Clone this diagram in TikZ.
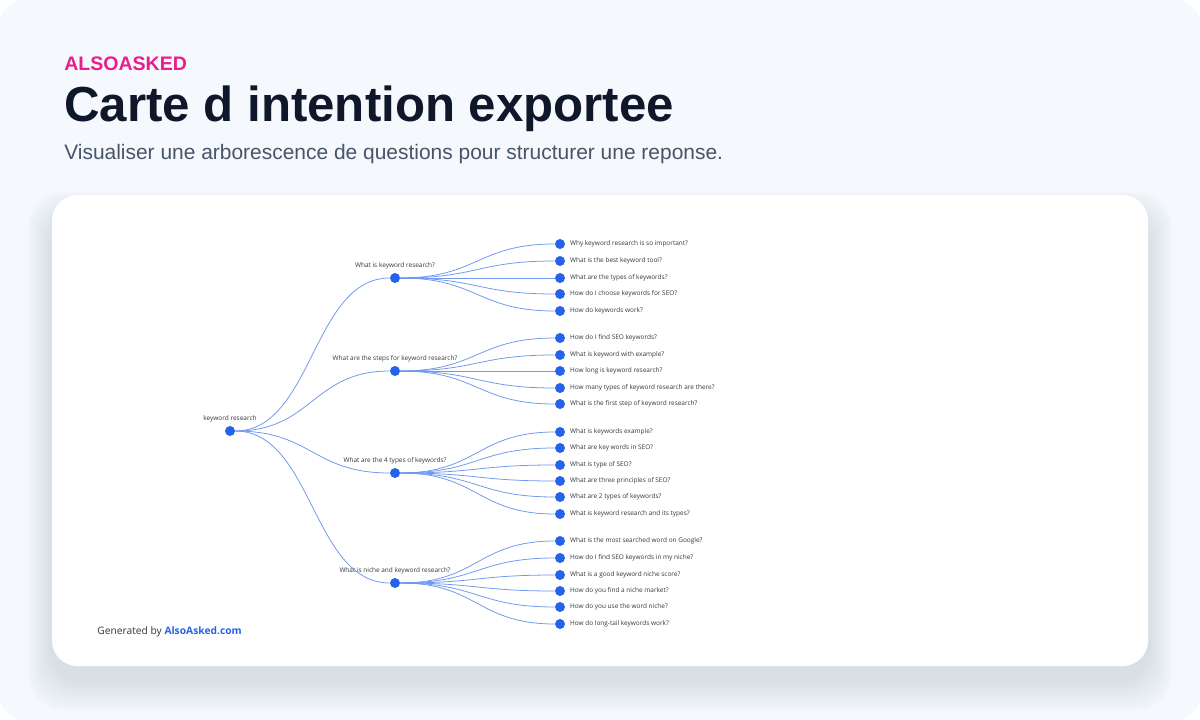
\documentclass[tikz,border=0pt]{standalone}
\usepackage{fontspec}
\setmainfont{Open Sans}
\newfontfamily\headfont{Liberation Sans}
\usepackage{xcolor}
\usepackage{tikz}
\usetikzlibrary{calc, positioning}
\definecolor{pagebg}{RGB}{245,248,252}
\definecolor{brandpink}{RGB}{233,30,140}
\definecolor{titleink}{RGB}{15,23,42}
\definecolor{subink}{RGB}{71,85,105}
\definecolor{dotblue}{RGB}{37,99,235}
\definecolor{linkblue}{RGB}{112,152,240}
\definecolor{shadowgray}{RGB}{150,160,185}
\definecolor{labelink}{RGB}{55,55,62}
\tikzset{
  dot/.style={circle, fill=dotblue, minimum size=7.1pt, inner sep=0pt},
  qlabel/.style={font=\fontsize{4.6}{5}\selectfont, text=labelink, inner sep=0pt},
  link/.style={draw=linkblue, line width=0.55pt,
    to path={.. controls ($(\tikztostart)+(77.5,0)$) and ($(\tikztotarget)+(-77.5,0)$) .. (\tikztotarget)}}
}

\begin{document}
\begin{tikzpicture}[x=0.025cm, y={(0,-0.025cm)}]
  \useasboundingbox (0,0) rectangle (1200,720);
  % Page background
  \fill[white] (0,0) rectangle (1200,720);
  \fill[pagebg, rounded corners=17pt] (0,0) rectangle (1200,720);

  % Heading
  \node[anchor=base west, inner sep=0pt, text=brandpink, font=\headfont\bfseries\fontsize{13.9}{16}\selectfont] (brand) at (64,71) {ALSOASKED};
  \node[anchor=base west, inner sep=0pt, text=titleink, font=\headfont\bfseries\fontsize{35}{40}\selectfont] (title) at (64,122) {Carte d intention exportee};
  \node[anchor=base west, inner sep=0pt, text=subink, font=\headfont\fontsize{14.9}{18}\selectfont] (subtitle) at (64,160) {Visualiser une arborescence de questions pour structurer une reponse.};

  % Card with soft shadow
  \foreach \k in {1,...,12}
    \fill[shadowgray, opacity=0.024, rounded corners=24pt] (52-2*\k,216-2*\k) rectangle (1148+2*\k,680+2.5*\k);
  \fill[white, rounded corners=18pt] (52,195) rectangle (1148,666);

  % Root and question nodes
  \node[dot, label={[qlabel, label distance=2.6pt]above:keyword research}] (root) at (230,431) {};
  \node[dot, label={[qlabel, label distance=2.6pt]above:What is keyword research?}] (q1) at (395,278) {};
  \node[dot, label={[qlabel, label distance=2.6pt]above:What are the steps for keyword research?}] (q2) at (395,371) {};
  \node[dot, label={[qlabel, label distance=2.6pt]above:What are the 4 types of keywords?}] (q3) at (395,473) {};
  \node[dot, label={[qlabel, label distance=2.6pt]above:What is niche and keyword research?}] (q4) at (395,583) {};
  \foreach \q in {q1,q2,q3,q4}
    \draw[link] (root.east) to (\q.west);

  % Leaf questions
  \foreach \p/\y/\txt [count=\i] in {
      q1/244/Why keyword research is so important?,
      q1/261/What is the best keyword tool?,
      q1/278/What are the types of keywords?,
      q1/294/How do I choose keywords for SEO?,
      q1/311/How do keywords work?,
      q2/338/How do I find SEO keywords?,
      q2/355/What is keyword with example?,
      q2/371/How long is keyword research?,
      q2/388/How many types of keyword research are there?,
      q2/404/What is the first step of keyword research?,
      q3/432/What is keywords example?,
      q3/448/What are key words in SEO?,
      q3/465/What is type of SEO?,
      q3/481/What are three principles of SEO?,
      q3/497/What are 2 types of keywords?,
      q3/514/What is keyword research and its types?,
      q4/541/What is the most searched word on Google?,
      q4/558/How do I find SEO keywords in my niche?,
      q4/575/What is a good keyword niche score?,
      q4/591/How do you find a niche market?,
      q4/607/How do you use the word niche?,
      q4/624/How do long-tail keywords work?} {
    \node[dot, label={[qlabel, label distance=3.2pt]right:\txt}] (leaf\i) at (560,\y) {};
    \draw[link] (\p.east) to (leaf\i.west);
  }

  % Footer
  \node[anchor=base west, inner sep=0pt, text=labelink, font=\fontsize{7.3}{9}\selectfont] (credit) at (97,634.5) {Generated by \textcolor{dotblue}{\bfseries AlsoAsked.com}};
\end{tikzpicture}
\end{document}
